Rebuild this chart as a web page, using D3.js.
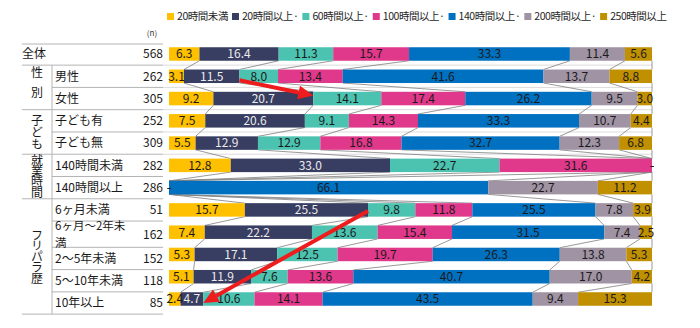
<!DOCTYPE html>
<html><head><meta charset="utf-8">
<script src="https://cdn.jsdelivr.net/npm/d3@7"></script>
<style>
html,body{margin:0;padding:0;background:#fff;}
text{font-family:"Noto Sans CJK JP","Noto Sans",sans-serif;}
</style></head>
<body><svg id="c" width="700" height="328"></svg>
<script>
const categories = ['全体','男性','女性','子ども有','子ども無','140時間未満','140時間以上','6ヶ月未満','6ヶ月～2年未満','2～5年未満','5～10年未満','10年以上'];
const nValues = [568,262,305,252,309,282,286,51,162,152,118,85];
const seriesNames = ['20時間未満','20時間以上·','60時間以上·','100時間以上·','140時間以上·','200時間以上·','250時間以上'];
const seriesColors = ['#FFC000','#383D62','#4CC3B0','#E0388A','#0070C0','#A093A3','#C09000'];
const labelColors = ['#1a1a1a','#ececec','#1a1a1a','#1a1a1a','#1a1a1a','#1a1a1a','#1a1a1a'];
const h20Under  = [6.3,3.1,9.2,7.5,5.5,12.8,0,15.7,7.4,5.3,5.1,2.4];
const h20Plus   = [16.4,11.5,20.7,20.6,12.9,33.0,0,25.5,22.2,17.1,11.9,4.7];
const h60Plus   = [11.3,8.0,14.1,9.1,12.9,22.7,0,9.8,13.6,12.5,7.6,10.6];
const h100Plus  = [15.7,13.4,17.4,14.3,16.8,31.6,0,11.8,15.4,19.7,13.6,14.1];
const h140Plus  = [33.3,41.6,26.2,33.3,32.7,0,66.1,25.5,31.5,26.3,40.7,43.5];
const h200Plus  = [11.4,13.7,9.5,10.7,12.3,0,22.7,7.8,7.4,13.8,17.0,9.4];
const h250Plus  = [5.6,8.8,3.0,4.4,6.8,0,11.2,3.9,2.5,5.3,4.2,15.3];
const groupLabels = ['性別','子ども','就業時間','フリパラ歴'];
const groupFirst = ['男性','子ども有','140時間未満','6ヶ月未満'];
const groupLast  = ['女性','子ども無','140時間以上','10年以上'];

const series = [h20Under,h20Plus,h60Plus,h100Plus,h140Plus,h200Plus,h250Plus];
const svg = d3.select('#c');

// layout
const x = d3.scaleLinear().domain([0,100]).range([169,652]);
const y = d3.scalePoint().domain(categories).range([54,299]);
const barH = 13.5;
const tallIdx = categories.indexOf('6ヶ月～2年未満');
const boundOff = i => (i >= tallIdx ? 4 : 0);
const labelOff = i => (i > tallIdx ? 4 : i === tallIdx ? 2 : 0);
const step = y.step();
const bottomOf = i => (i < categories.length-1 ? (y(categories[i])+y(categories[i+1]))/2 : y(categories[i]) + step/2) + boundOff(i);
const topOf = i => (i === 0 ? y(categories[0]) - 10 : bottomOf(i-1));

// normalized stacks (100% stacked)
const rows = categories.map((c,i)=>{
  const vals = series.map(s=>s[i]);
  const tot = d3.sum(vals);
  let acc = 0;
  const segs = vals.map((v,k)=>{ const s0 = acc; acc += v/tot*100; return {k, v, s0, s1: acc}; });
  return {c, i, segs};
});

// table lines
const tableLeft = 22, tableRight = 163, subLeft = 52;
const gLines = svg.append('g').attr('stroke','#b4b4b4').attr('stroke-width',1);
gLines.append('line').attr('x1',tableLeft).attr('x2',tableRight).attr('y1',topOf(0)).attr('y2',topOf(0));
const groupStart = groupFirst.map(c=>categories.indexOf(c));
const groupEnd = groupLast.map(c=>categories.indexOf(c));
categories.forEach((c,i)=>{
  const yb = bottomOf(i);
  const isGroupEnd = i===0 || groupEnd.includes(i);
  gLines.append('line').attr('x1', isGroupEnd ? tableLeft : subLeft).attr('x2',tableRight)
    .attr('y1',yb).attr('y2',yb);
  if (i < 5) {
    svg.append('line').attr('x1',tableRight).attr('x2',x(100)).attr('y1',yb).attr('y2',yb)
      .attr('stroke','#dcdcdc').attr('stroke-width',1);
  }
});
gLines.append('line').attr('x1',subLeft).attr('x2',subLeft).attr('y1',bottomOf(0)).attr('y2',bottomOf(categories.length-1));

// series connector lines
const gConn = svg.append('g').attr('stroke','#7f7f7f').attr('stroke-width',0.8).attr('fill','none');
for (let i=0;i<rows.length-1;i++){
  for (let k=0;k<series.length;k++){
    gConn.append('line')
      .attr('x1', x(rows[i].segs[k].s1)).attr('y1', y(categories[i]) + barH/2)
      .attr('x2', x(rows[i+1].segs[k].s1)).attr('y2', y(categories[i+1]) - barH/2);
  }
}

// bars
const gBars = svg.append('g');
rows.forEach(r=>{
  gBars.selectAll(null).data(r.segs).join('rect')
    .attr('x', d=>x(d.s0)).attr('width', d=>Math.max(0, x(d.s1)-x(d.s0)))
    .attr('y', y(r.c)-barH/2).attr('height', barH)
    .attr('fill', d=>seriesColors[d.k]);
});
// bar labels
rows.forEach(r=>{
  gBars.selectAll(null).data(r.segs).join('text')
    .attr('x', d=>(x(d.s0)+x(d.s1))/2).attr('y', y(r.c))
    .attr('dy','0.36em').attr('text-anchor','middle')
    .attr('font-size', 12)
    .attr('fill', d=> d.v===0 ? '#1a1a1a' : labelColors[d.k])
    .text(d=> d.v===0 ? '-' : d3.format('.1f')(d.v));
});

// row labels
const gLab = svg.append('g').attr('font-size',12).attr('fill','#1a1a1a');
categories.forEach((c,i)=>{
  const cy = y(c) + labelOff(i);
  if (i===0){
    gLab.append('text').attr('x',tableLeft).attr('y',cy).attr('dy','0.36em').text(c);
  } else {
    const t = gLab.append('text').attr('x',55).attr('y',cy).attr('dy','0.36em').text(c);
    if (t.node().getComputedTextLength() > 80){
      let a = c, b = '';
      while (a.length>1){ b = a.slice(-1)+b; a = a.slice(0,-1); t.text(a); if (t.node().getComputedTextLength() <= 80) break; }
      t.text(null).attr('font-size',11.5);
      t.append('tspan').attr('x',55).attr('y',cy-8.4).attr('dy','0.36em').text(a);
      t.append('tspan').attr('x',55).attr('y',cy+8.4).attr('dy','0.36em').text(b);
    }
  }
  gLab.append('text').attr('x',tableRight).attr('y',cy).attr('dy','0.36em').attr('text-anchor','end').text(nValues[i]);
});
svg.append('text').attr('x',152).attr('y',36).attr('font-size',8).attr('text-anchor','middle').attr('fill','#333').text('(n)');

// group labels (vertical, single text each)
const groupSpacing = [20,12,10.7,10.75];
const groupShift = [-5,0,0,0];
const gFont = 12;
groupLabels.forEach((g,j)=>{
  const top = topOf(groupStart[j]), bot = bottomOf(groupEnd[j]);
  const ls = groupSpacing[j] - gFont;
  const cyc = (top+bot)/2 + groupShift[j] + ls/2;
  gLab.append('text')
    .attr('x',37).attr('y',cyc)
    .attr('text-anchor','middle')
    .style('writing-mode','vertical-rl')
    .style('letter-spacing', ls + 'px')
    .attr('font-size', gFont)
    .text(g);
});

// legend
const gLeg = svg.append('g').attr('font-size',10.5).attr('fill','#262626').style('letter-spacing','-0.45px');
let lx = 167;
seriesNames.forEach((s,k)=>{
  gLeg.append('rect').attr('x',lx).attr('y',13).attr('width',7).attr('height',7).attr('fill',seriesColors[k]);
  const t = gLeg.append('text').attr('x',lx+10).attr('y',16.5).attr('dy','0.36em').text(s);
  lx = lx + 10 + t.node().getComputedTextLength() + 4;
});

// red arrows
function arrow(x1,y1,x2,y2){
  const ang = Math.atan2(y2-y1,x2-x1), L=15, W=7;
  const bx = x2 - L*Math.cos(ang), by = y2 - L*Math.sin(ang);
  svg.append('line').attr('x1',x1).attr('y1',y1).attr('x2',bx).attr('y2',by)
    .attr('stroke','#EE1C1C').attr('stroke-width',4);
  const px = -Math.sin(ang)*W, py = Math.cos(ang)*W;
  svg.append('polygon').attr('points',[[x2,y2],[bx+px,by+py],[bx-px,by-py]].map(p=>p.join(',')).join(' '))
    .attr('fill','#EE1C1C');
}
const navyEnd = c => x(rows[categories.indexOf(c)].segs[1].s1);
arrow(navyEnd('男性'), y('男性')+4, navyEnd('女性'), y('女性')-3);
arrow(navyEnd('6ヶ月未満'), y('6ヶ月未満')+1, navyEnd('10年以上'), y('10年以上')+4);
</script></body></html>
